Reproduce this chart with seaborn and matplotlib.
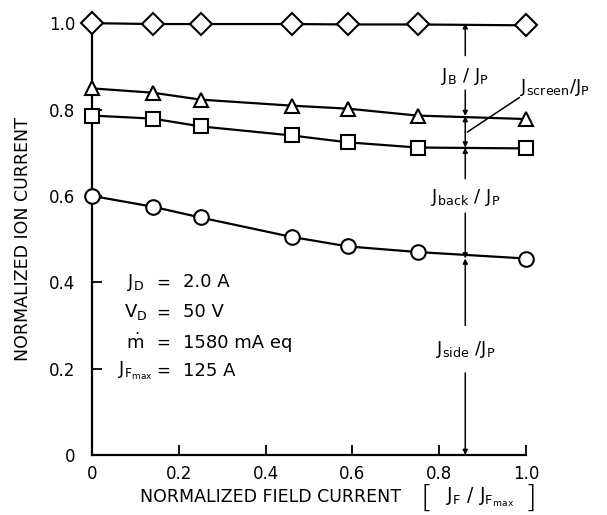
import numpy as np
import pandas as pd
import matplotlib
matplotlib.use("Agg")
import matplotlib.pyplot as plt
import seaborn as sns

# ---------------------------------------------------------------------------
# Data
# ---------------------------------------------------------------------------
field_current = [0.0, 0.14, 0.25, 0.46, 0.59, 0.75, 1.0]
beam_total = [1.0, 0.998, 0.998, 0.998, 0.997, 0.997, 0.995]     # diamonds
beam_screen = [0.849, 0.839, 0.823, 0.809, 0.802, 0.786, 0.778]  # triangles
beam_back = [0.786, 0.779, 0.761, 0.740, 0.724, 0.712, 0.710]    # squares
beam_side = [0.600, 0.575, 0.550, 0.505, 0.483, 0.470, 0.455]    # circles

series = {
    "total": (beam_total, "D", 11.5),
    "screen": (beam_screen, "^", 10.5),
    "back": (beam_back, "s", 10),
    "side": (beam_side, "o", 10.5),
}

x_ticks = [0, 0.2, 0.4, 0.6, 0.8, 1.0]
x_tick_labels = ["0", "0.2", "0.4", "0.6", "0.8", "1.0"]
y_ticks = [0, 0.2, 0.4, 0.6, 0.8, 1.0]
y_tick_labels = ["0", "0.2", "0.4", "0.6", "0.8", "1.0"]

# position of the annotation bar and the levels it spans
bar_x = 0.86
bar_levels = [1.0, 0.785, 0.712, 0.455, 0.0]

conditions = [
    (r"$\mathregular{J_D}$", "2.0 A"),
    (r"$\mathregular{V_D}$", "50 V"),
    (r"$\mathregular{\dot{m}}$", "1580 mA eq"),
    (r"$\mathregular{J_{F_{max}}}$", "125 A"),
]
condition_y = [0.40, 0.33, 0.26, 0.195]

# ---------------------------------------------------------------------------
sns.set_style("ticks")
plt.rcParams["font.family"] = ["DejaVu Sans"]
plt.rcParams["mathtext.fontset"] = "dejavusans"
plt.rcParams["text.color"] = "black"
plt.rcParams["axes.labelcolor"] = "black"

fig = plt.figure(figsize=(6.07, 5.15), dpi=100)
ax = fig.add_axes([0.1516, 0.1165, 0.7150, 0.8385])

rows = []
for name, (vals, _, _) in series.items():
    for xv, yv in zip(field_current, vals):
        rows.append({"series": name, "x": xv, "y": yv})
df = pd.DataFrame(rows)

for name, (vals, marker, ms) in series.items():
    sub = df[df["series"] == name]
    sns.lineplot(data=sub, x="x", y="y", ax=ax, color="black", lw=1.6,
                 marker=marker, markersize=ms, markerfacecolor="white",
                 markeredgecolor="black", markeredgewidth=1.5,
                 clip_on=False, zorder=3, legend=False)

ax.set_xlim(0, 1.0)
ax.set_ylim(0, 1.0)
ax.set_xticks(x_ticks)
ax.set_xticklabels(x_tick_labels)
ax.set_yticks(y_ticks)
ax.set_yticklabels(y_tick_labels)
ax.tick_params(direction="in", length=7, width=1.3, labelsize=12,
               colors="black")
ax.tick_params(axis="y", pad=12)
ax.tick_params(axis="x", pad=7)
sns.despine(ax=ax)
for side in ["left", "bottom"]:
    ax.spines[side].set_linewidth(1.6)
    ax.spines[side].set_color("black")

ax.set_xlabel("")
ax.set_ylabel("NORMALIZED ION CURRENT", fontsize=12.5, labelpad=12)

# x label built from pieces so the brackets can be tall
W, H = 607.0, 515.0
label_y = 1 - 497 / H
fig.text(270 / W, label_y, "NORMALIZED FIELD CURRENT", ha="center",
         va="center", fontsize=12.5)
fig.text(426 / W, label_y - 0.002, "[", ha="center", va="center",
         fontsize=22, fontweight="light")
fig.text(480 / W, label_y, r"$\mathregular{J_F\ /\ J_{F_{max}}}$",
         ha="center", va="center", fontsize=13.5)
fig.text(530 / W, label_y - 0.002, "]", ha="center", va="center",
         fontsize=22, fontweight="light")

# ---------------------------------------------------------------------------
# Annotation bar
# ---------------------------------------------------------------------------
arrow = dict(arrowstyle="-|>", color="black", lw=1.1, shrinkA=0, shrinkB=0,
             mutation_scale=7)


def seg(y0, y1):
    ax.annotate("", xy=(bar_x, y1), xytext=(bar_x, y0),
                arrowprops=arrow, annotation_clip=False)


# J_B / J_P
seg(0.925, bar_levels[0])
seg(0.845, bar_levels[1])
ax.text(bar_x, 0.876, r"$\mathregular{J_B\ /\ J_P}$", ha="center",
        va="center", fontsize=13)
# J_screen / J_P
mid = 0.748
seg(mid, bar_levels[1])
seg(mid, bar_levels[2])
ax.plot([bar_x + 0.005, 0.985], [mid, 0.828], color="black", lw=1.1,
        clip_on=False)
ax.text(0.985, 0.852, r"$\mathregular{J_{screen}/J_P}$", ha="left",
        va="center", fontsize=13, clip_on=False)
# J_back / J_P
seg(0.64, bar_levels[2])
seg(0.56, bar_levels[3])
ax.text(bar_x, 0.596, r"$\mathregular{J_{back}\ /\ J_P}$", ha="center",
        va="center", fontsize=13)
# J_side / J_P
seg(0.30, bar_levels[3])
seg(0.19, bar_levels[4])
ax.text(bar_x, 0.245, r"$\mathregular{J_{side}\ /J_P}$", ha="center",
        va="center", fontsize=13)

# operating conditions
for (lab, val), yy in zip(conditions, condition_y):
    ax.text(0.10, yy, lab, ha="center", va="center", fontsize=13)
    ax.text(0.165, yy, "=", ha="center", va="center", fontsize=12)
    ax.text(0.21, yy, val, ha="left", va="center", fontsize=13)

fig.savefig("out.png", dpi=100)
